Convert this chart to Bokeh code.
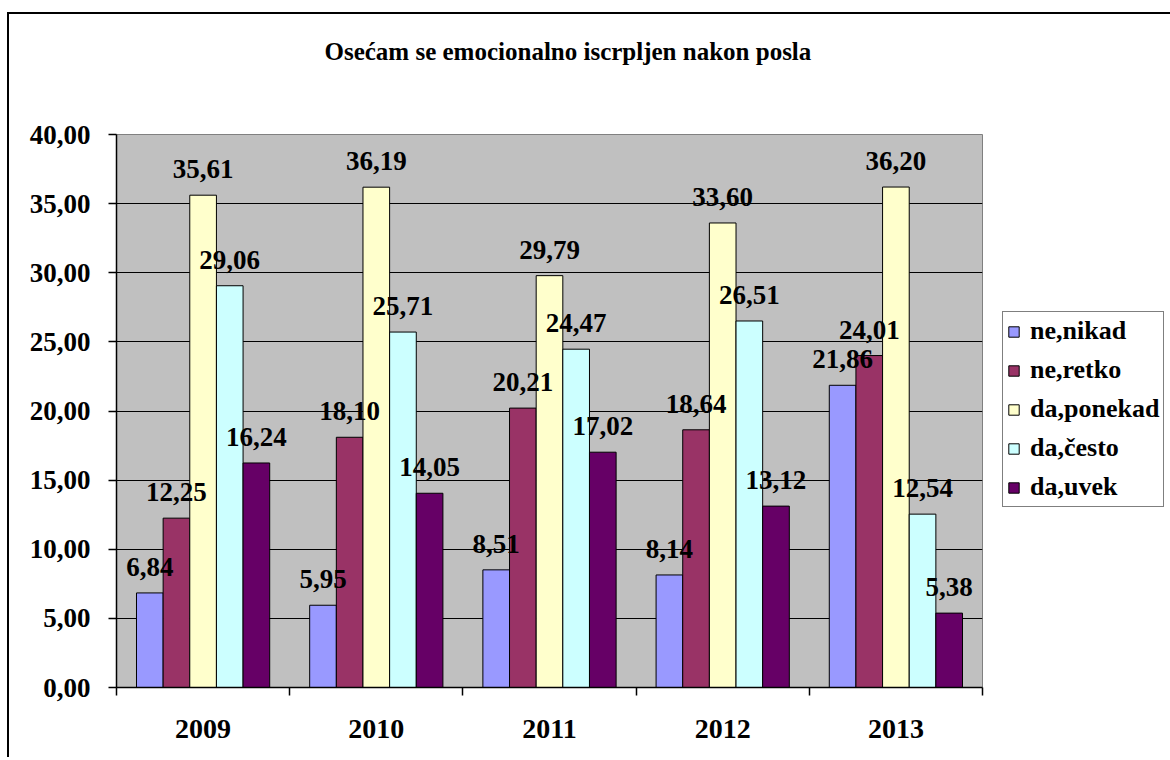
from bokeh.plotting import figure
from bokeh.models import (ColumnDataSource, FixedTicker, CustomJSTickFormatter,
                          Legend, LegendItem, Range1d, Title)
from bokeh.core.properties import value
from bokeh.embed import file_html
from bokeh.resources import INLINE

title_text = "Osećam se emocionalno iscrpljen nakon posla"
years = ["2009", "2010", "2011", "2012", "2013"]
series_names = ["ne,nikad", "ne,retko", "da,ponekad", "da,često", "da,uvek"]
ne_nikad = [6.84, 5.95, 8.51, 8.14, 21.86]
ne_retko = [12.25, 18.10, 20.21, 18.64, 24.01]
da_ponekad = [35.61, 36.19, 29.79, 33.60, 36.20]
da_cesto = [29.06, 25.71, 24.47, 26.51, 12.54]
da_uvek = [16.24, 14.05, 17.02, 13.12, 5.38]
y_ticks = [0, 5, 10, 15, 20, 25, 30, 35, 40]

series_values = [ne_nikad, ne_retko, da_ponekad, da_cesto, da_uvek]
colors = ["#9999FF", "#993366", "#FFFFCC", "#CCFFFF", "#660066"]

FONT = "Liberation Serif"

p = figure(frame_width=866, frame_height=553,
           min_border_left=107, min_border_top=60, min_border_bottom=70,
           min_border_right=40,
           x_range=Range1d(0, len(years)), y_range=Range1d(0, 40),
           output_backend="svg", toolbar_location=None, tools="")
p.styles = {"margin-top": "12px", "margin-left": "7px",
            "border-top": "2px solid black", "border-left": "2px solid black"}

p.background_fill_color = "#C0C0C0"
p.border_fill_color = "white"
p.outline_line_color = "#808080"
p.outline_line_width = 1

n = len(series_names)
w = 1.0 / (n + 1.5)
renderers = []
sources = []
for j, (name, vals, col) in enumerate(zip(series_names, series_values, colors)):
    xs = [i + 0.5 + (j - (n - 1) / 2) * w for i in range(len(years))]
    src = ColumnDataSource(dict(x=xs, top=vals,
                                lab=[f"{v:.2f}".replace(".", ",") for v in vals]))
    sources.append(src)
    r = p.vbar(x="x", top="top", width=w, source=src, fill_color=col,
               line_color="black", line_width=1)
    renderers.append(r)

for src in sources:
    p.text(x="x", y="top", text="lab", source=src, text_align="center",
           text_baseline="alphabetic", y_offset=-26,
           text_font=value(FONT), text_font_style="bold",
           text_font_size="27px", text_color="black")

# y axis
p.yaxis.ticker = FixedTicker(ticks=y_ticks)
p.yaxis.formatter = CustomJSTickFormatter(code="return tick.toFixed(2).replace('.', ',');")
p.yaxis.major_tick_out = 8
p.yaxis.major_tick_in = 0
p.yaxis.minor_tick_out = 0
p.yaxis.minor_tick_in = 0
p.yaxis.axis_line_color = "black"
p.yaxis.axis_line_width = 1.5
p.yaxis.major_tick_line_color = "black"
p.yaxis.major_tick_line_width = 1.5
p.yaxis.major_label_standoff = 18
p.yaxis.major_label_text_font = FONT
p.yaxis.major_label_text_font_style = "bold"
p.yaxis.major_label_text_font_size = "27px"
p.yaxis.major_label_text_color = "black"

# x axis
p.xaxis.ticker = FixedTicker(ticks=[i + 0.5 for i in range(len(years))],
                             minor_ticks=list(range(len(years) + 1)))
p.xaxis.formatter = CustomJSTickFormatter(args=dict(years=years),
                                          code="return years[Math.floor(tick)];")
p.xaxis.major_tick_out = 0
p.xaxis.major_tick_in = 0
p.xaxis.minor_tick_out = 8
p.xaxis.minor_tick_in = 0
p.xaxis.minor_tick_line_color = "black"
p.xaxis.minor_tick_line_width = 1.5
p.xaxis.axis_line_color = "black"
p.xaxis.axis_line_width = 1.5
p.xaxis.major_label_standoff = 24
p.xaxis.major_label_text_font = FONT
p.xaxis.major_label_text_font_style = "bold"
p.xaxis.major_label_text_font_size = "28px"
p.xaxis.major_label_text_color = "black"

p.xgrid.grid_line_color = None
p.ygrid.ticker = FixedTicker(ticks=y_ticks[1:-1])
p.ygrid.grid_line_color = "black"
p.ygrid.grid_line_width = 1

# spacer between frame and title (closest to the frame)
p.add_layout(Title(text=" ", text_font_size="1px", standoff=41), "above")

# title (outermost)
p.title.text = title_text
p.title.align = "left"
p.title.offset = 208
p.title.vertical_align = "top"
p.title.standoff = 47
p.title.text_font = FONT
p.title.text_font_style = "bold"
p.title.text_font_size = "25px"
p.title.text_color = "black"

legend = Legend(items=[LegendItem(label=nm, renderers=[r])
                       for nm, r in zip(series_names, renderers)],
                location=(20, 180))
legend.border_line_color = "black"
legend.border_line_width = 1
legend.background_fill_color = "white"
legend.background_fill_alpha = 1
legend.label_text_font = FONT
legend.label_text_font_style = "bold"
legend.label_text_font_size = "26px"
legend.label_text_color = "black"
legend.glyph_width = 13
legend.glyph_height = 13
legend.label_standoff = 10
legend.padding = 4
legend.spacing = 9
legend.margin = 0
p.add_layout(legend, "right")

open("out.html", "w").write(file_html(p, INLINE))
